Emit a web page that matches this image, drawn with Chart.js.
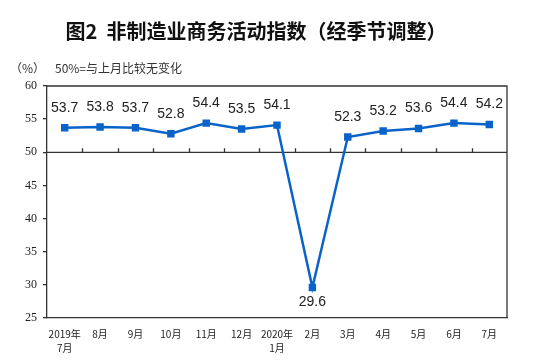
<!DOCTYPE html>
<html lang="zh">
<head>
  <meta charset="UTF-8">
  <title>非制造业商务活动指数</title>
  <script src="https://cdn.jsdelivr.net/npm/chart.js@4"></script>
  <style>
    body { margin: 0; background: #fff; }
    #wrap { width: 553px; height: 362px; }
  </style>
</head>
<body>
  <div id="wrap"><canvas id="pmi" width="553" height="362"></canvas></div>

  <script>
    // data
    const months = [['2019年', '7月'], '8月', '9月', '10月', '11月', '12月', ['2020年', '1月'],
                    '2月', '3月', '4月', '5月', '6月', '7月'];
    const index = [53.7, 53.8, 53.7, 52.8, 54.4, 53.5, 54.1, 29.6, 52.3, 53.2, 53.6, 54.4, 54.2];
    const titleText = '图2  非制造业商务活动指数（经季节调整）';
    const unitText = '（%）';
    const noteText = '50%=与上月比较无变化';
    const baseline = 50;

    const cjk = '"Noto Sans CJK SC", "Liberation Sans", sans-serif';
    const axisColor = '#333';
    const lineColor = '#0a63c9';

    // frame, 50 line with category ticks, value labels and titles
    const decor = {
      id: 'decor',
      beforeDatasetsDraw(chart) {
        const { ctx, chartArea: a, scales } = chart;
        const y50 = scales.y.getPixelForValue(baseline);
        ctx.save();
        ctx.strokeStyle = axisColor;
        ctx.lineWidth = 1.3;
        ctx.beginPath();
        ctx.moveTo(a.left, y50);
        ctx.lineTo(a.right, y50);
        // category boundaries, ticks pointing up
        const step = (a.right - a.left) / months.length;
        for (let i = 1; i < months.length; i++) {
          const x = Math.round(a.left + step * i) + 0.5;
          ctx.moveTo(x, y50);
          ctx.lineTo(x, y50 - 4);
        }
        ctx.stroke();
        // top and right frame
        ctx.beginPath();
        ctx.moveTo(a.left, a.top);
        ctx.lineTo(a.right, a.top);
        ctx.lineTo(a.right, a.bottom);
        ctx.stroke();
        ctx.restore();
      },
      afterDraw(chart) {
        const { ctx } = chart;
        const meta = chart.getDatasetMeta(0);
        ctx.save();
        ctx.fillStyle = '#222';
        ctx.font = '14px "Liberation Sans", Arial, sans-serif';
        ctx.textAlign = 'center';
        ctx.textBaseline = 'middle';
        meta.data.forEach((pt, i) => {
          const below = index[i] < baseline;
          ctx.fillText(index[i].toFixed(1), pt.x, below ? pt.y + 15 : pt.y - 20);
        });

        ctx.fillStyle = '#111';
        ctx.font = 'bold 20px ' + cjk;
        ctx.fillText(titleText, 256, 31);

        ctx.fillStyle = '#333';
        ctx.font = '12px ' + cjk;
        ctx.textAlign = 'left';
        ctx.fillText(unitText, 10, 68);
        ctx.fillText(noteText, 55, 68);
        ctx.restore();
      }
    };

    new Chart(document.getElementById('pmi'), {
      type: 'line',
      data: {
        labels: months,
        datasets: [{
          data: index,
          borderColor: lineColor,
          backgroundColor: lineColor,
          borderWidth: 2.5,
          pointStyle: 'rect',
          pointRadius: 3.5,
          tension: 0
        }]
      },
      options: {
        responsive: false,
        animation: false,
        layout: { padding: { top: 86, right: 46, left: 0, bottom: 0 } },
        plugins: { legend: { display: false }, tooltip: { enabled: false } },
        scales: {
          x: {
            offset: true,
            grid: { display: false, drawTicks: false },
            border: { display: true, color: axisColor, width: 1.3 },
            ticks: {
              color: '#222',
              font: { family: cjk, size: 10, lineHeight: 1.4 },
              padding: 9,
              maxRotation: 0,
              autoSkip: false
            },
            afterFit(scale) { scale.height = 44; }
          },
          y: {
            min: 25,
            max: 60,
            grid: { drawOnChartArea: false, drawTicks: true, tickLength: 4, color: axisColor, lineWidth: 1.3 },
            border: { display: true, color: axisColor, width: 1.3 },
            ticks: {
              stepSize: 5,
              color: '#222',
              padding: 6,
              font: { family: '"Liberation Serif", serif', size: 12 }
            },
            afterFit(scale) { scale.width = 47; }
          }
        }
      },
      plugins: [decor]
    });
  </script>
</body>
</html>
